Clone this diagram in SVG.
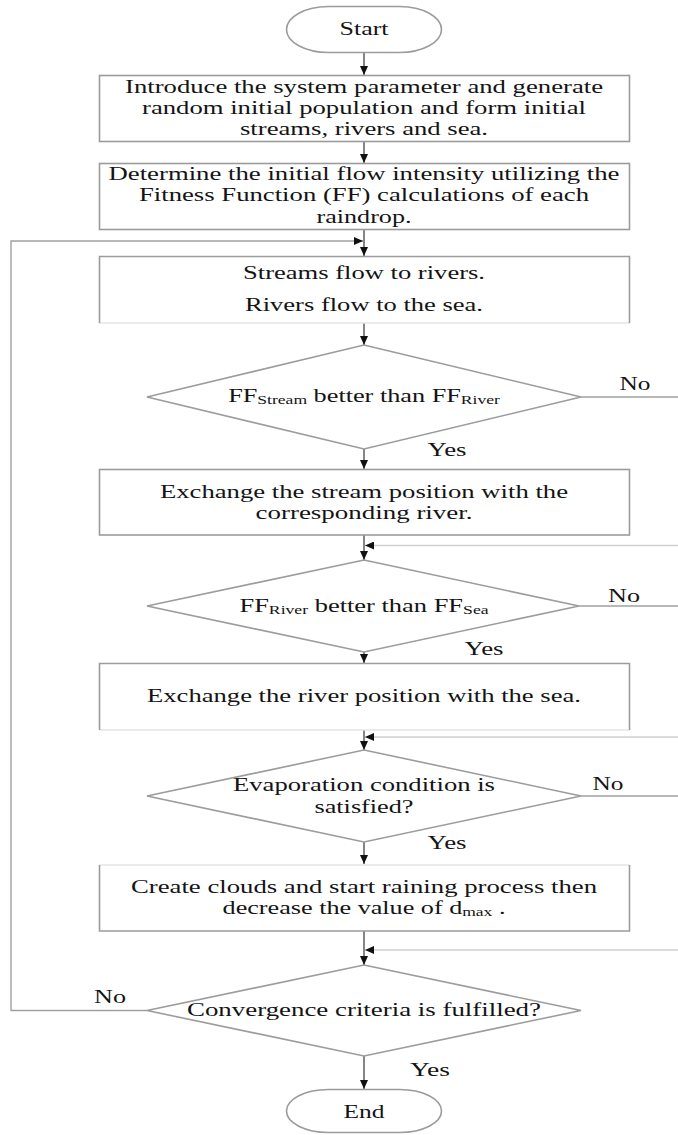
<svg xmlns="http://www.w3.org/2000/svg" width="678" height="1135" viewBox="0 0 678 1135">
<defs>
<style>
.box{fill:#fff;stroke:#9c9c9c;stroke-width:1.6}
.edge{fill:none;stroke:#9c9c9c;stroke-width:1.6}
.faint{fill:none;stroke:#e4e4e4;stroke-width:1.4}
.t{font-family:"Liberation Serif","Times New Roman",serif;font-size:19px;fill:#141414;text-anchor:middle}
.flow{fill:none;stroke:#444;stroke-width:1.3}
.branch{fill:none;stroke:#a0a0a0;stroke-width:1.4}
.ret{fill:none;stroke:#cfcfcf;stroke-width:1.4}
</style>
<marker id="ah" markerUnits="userSpaceOnUse" markerWidth="9" markerHeight="8" viewBox="0 0 9 8" refX="9" refY="4" orient="auto">
<path d="M0,0 L9,4 L0,8 z" fill="#111"/>
</marker>
</defs>
<rect width="678" height="1135" fill="#fff"/>

<g id="connectors">
<path class="flow" d="M364,52 V75" marker-end="url(#ah)"/>
<path class="flow" d="M364,141.5 V163" marker-end="url(#ah)"/>
<path class="flow" d="M364,229.5 V256" marker-end="url(#ah)"/>
<path class="flow" d="M364,323 V345" marker-end="url(#ah)"/>
<path class="flow" d="M364,449 V469" marker-end="url(#ah)"/>
<path class="flow" d="M364,535 V560" marker-end="url(#ah)"/>
<path class="flow" d="M364,652 V663" marker-end="url(#ah)"/>
<path class="flow" d="M364,730 V750" marker-end="url(#ah)"/>
<path class="flow" d="M364,842 V864" marker-end="url(#ah)"/>
<path class="flow" d="M364,931 V965" marker-end="url(#ah)"/>
<path class="flow" d="M364,1056 V1089" marker-end="url(#ah)"/>
<path class="branch" d="M147,1010.5 H11 V241 H363" marker-end="url(#ah)"/>
<path class="branch" d="M581,397 H678"/>
<path class="ret" d="M678,545.5 H365" marker-end="url(#ah)"/>
<path class="branch" d="M579,606 H678"/>
<path class="ret" d="M678,737 H365" marker-end="url(#ah)"/>
<path class="branch" d="M581,796 H678"/>
<path class="ret" d="M678,950 H365" marker-end="url(#ah)"/>
<text class="t" x="635" y="390" textLength="31" lengthAdjust="spacingAndGlyphs">No</text>
<text class="t" x="447" y="456" textLength="39" lengthAdjust="spacingAndGlyphs">Yes</text>
<text class="t" x="624" y="602" textLength="32" lengthAdjust="spacingAndGlyphs">No</text>
<text class="t" x="484" y="655" textLength="39" lengthAdjust="spacingAndGlyphs">Yes</text>
<text class="t" x="608" y="790" textLength="31" lengthAdjust="spacingAndGlyphs">No</text>
<text class="t" x="447" y="849" textLength="39" lengthAdjust="spacingAndGlyphs">Yes</text>
<text class="t" x="110" y="1003" textLength="32" lengthAdjust="spacingAndGlyphs">No</text>
<text class="t" x="430" y="1076" textLength="40" lengthAdjust="spacingAndGlyphs">Yes</text>
</g>

<g id="start">
<rect class="box" x="286.5" y="6.5" width="155" height="46" rx="42" ry="23"/>
<text class="t" x="364" y="35" textLength="49" lengthAdjust="spacingAndGlyphs">Start</text>
</g>

<g id="init">
<rect class="box" x="99.5" y="75.5" width="530" height="66"/>
<text class="t" x="364" y="93" textLength="478" lengthAdjust="spacingAndGlyphs">Introduce the system parameter and generate</text>
<text class="t" x="364" y="114" textLength="444" lengthAdjust="spacingAndGlyphs">random initial population and form initial</text>
<text class="t" x="364" y="135" textLength="248" lengthAdjust="spacingAndGlyphs">streams, rivers and sea.</text>
</g>

<g id="intensity">
<rect class="box" x="99.5" y="163.5" width="530" height="66"/>
<text class="t" x="364" y="180" textLength="511" lengthAdjust="spacingAndGlyphs">Determine the initial flow intensity utilizing the</text>
<text class="t" x="364" y="201" textLength="450" lengthAdjust="spacingAndGlyphs">Fitness Function (FF) calculations of each</text>
<text class="t" x="364" y="223" textLength="95" lengthAdjust="spacingAndGlyphs">raindrop.</text>
</g>

<g id="flow">
<rect x="99.5" y="256.5" width="530" height="66.5" fill="#fff"/>
<path class="faint" d="M99.5,323 H629.5"/>
<path class="edge" d="M99.5,323 V256.5 H629.5 V323"/>
<text class="t" x="364" y="279" textLength="242" lengthAdjust="spacingAndGlyphs">Streams flow to rivers.</text>
<text class="t" x="364" y="311" textLength="238" lengthAdjust="spacingAndGlyphs">Rivers flow to the sea.</text>
</g>

<g id="cond-stream">
<polygon class="box" points="364,345 581,397 364,449 147,397"/>
<text class="t" transform="translate(364 402) scale(1.383 1)" x="0" y="0">FF<tspan font-size="12.7" dy="2">Stream</tspan><tspan dy="-2"> better than FF</tspan><tspan font-size="12.7" dy="2">River</tspan></text>
</g>

<g id="exchange-stream">
<rect class="box" x="99.5" y="469.5" width="530" height="65.5"/>
<text class="t" x="364" y="498" textLength="408" lengthAdjust="spacingAndGlyphs">Exchange the stream position with the</text>
<text class="t" x="364" y="519" textLength="217" lengthAdjust="spacingAndGlyphs">corresponding river.</text>
</g>

<g id="cond-river">
<polygon class="box" points="364,560 579,606 364,652 147,606"/>
<text class="t" transform="translate(364 612) scale(1.393 1)" x="0" y="0">FF<tspan font-size="12.7" dy="2">River</tspan><tspan dy="-2"> better than FF</tspan><tspan font-size="12.7" dy="2">Sea</tspan></text>
</g>

<g id="exchange-river">
<rect x="99.5" y="663.5" width="530" height="66.5" fill="#fff"/>
<path class="faint" d="M99.5,730 H629.5"/>
<path class="edge" d="M99.5,730 V663.5 H629.5 V730"/>
<text class="t" x="364" y="702" textLength="434" lengthAdjust="spacingAndGlyphs">Exchange the river position with the sea.</text>
</g>

<g id="cond-evap">
<polygon class="box" points="364,750 581,796 364,842 147,796"/>
<text class="t" x="364" y="791" textLength="262" lengthAdjust="spacingAndGlyphs">Evaporation condition is</text>
<text class="t" x="364" y="813" textLength="99" lengthAdjust="spacingAndGlyphs">satisfied?</text>
</g>

<g id="rain">
<rect x="99.5" y="865" width="530" height="66" fill="#fff"/>
<path class="faint" d="M99.5,865 H629.5"/>
<path class="edge" d="M99.5,865 V931 H629.5 V865"/>
<text class="t" x="364" y="893" textLength="466" lengthAdjust="spacingAndGlyphs">Create clouds and start raining process then</text>
<text class="t" transform="translate(364 914) scale(1.378 1)" x="0" y="0">decrease the value of d<tspan font-size="12.7" dy="2">max</tspan><tspan dy="-2"> .</tspan></text>
</g>

<g id="cond-conv">
<polygon class="box" points="364,965 581,1010.5 364,1056 147,1010.5"/>
<text class="t" x="364" y="1016" textLength="354" lengthAdjust="spacingAndGlyphs">Convergence criteria is fulfilled?</text>
</g>

<g id="end">
<rect class="box" x="286.5" y="1089.5" width="155" height="43" rx="42" ry="21.5"/>
<text class="t" x="364" y="1118" textLength="41" lengthAdjust="spacingAndGlyphs">End</text>
</g>
</svg>
